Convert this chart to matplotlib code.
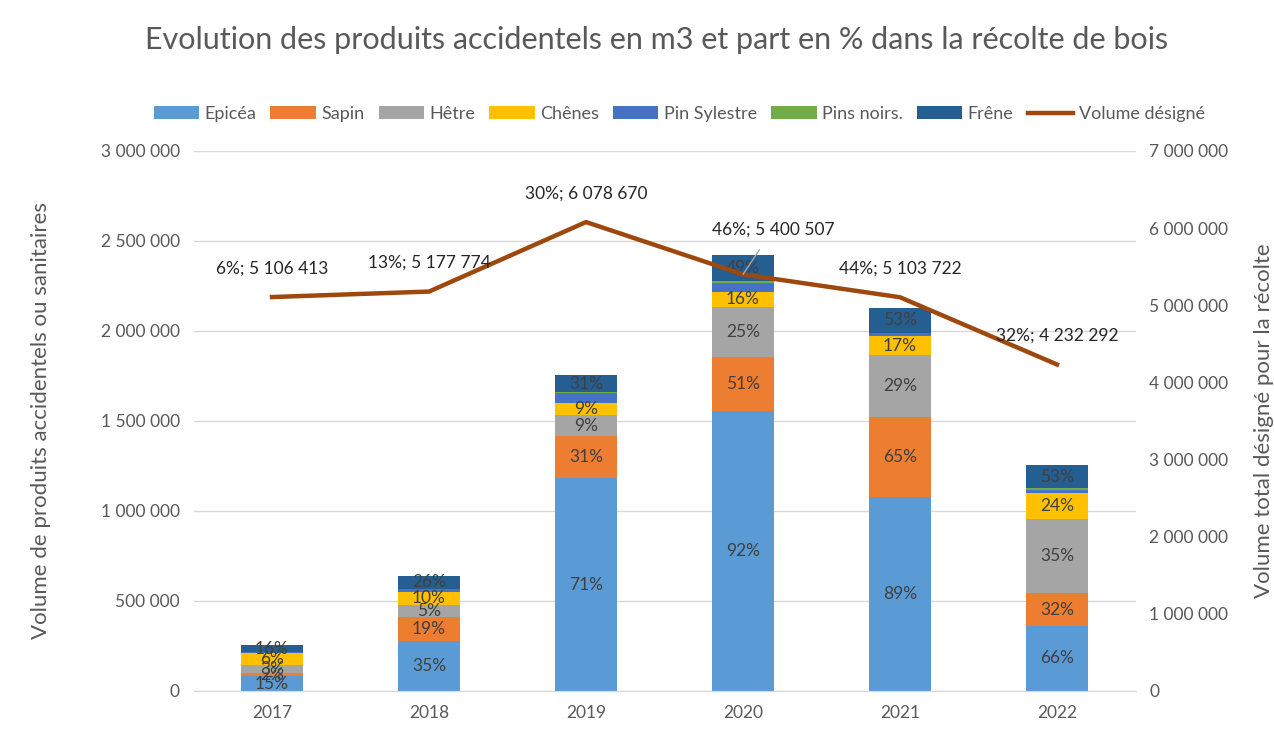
import numpy as np
import matplotlib.pyplot as plt

plt.rcParams['font.family'] = ['Lato', 'DejaVu Sans']

annees = ['2017', '2018', '2019', '2020', '2021', '2022']

# volumes par essence (m3)
epicea = [83000, 278000, 1183000, 1556000, 1078000, 361000]
sapin = [17000, 133000, 233000, 300000, 444000, 183000]
hetre = [44000, 67000, 117000, 278000, 344000, 411000]
chenes = [67000, 72000, 67000, 83000, 106000, 144000]
pin_sylvestre = [5000, 17000, 56000, 50000, 17000, 17000]
pins_noirs = [0, 0, 5000, 11000, 0, 11000]
frene = [39000, 72000, 94000, 144000, 139000, 128000]

# pourcentages affichés dans les barres
pct_epicea = ['15%', '35%', '71%', '92%', '89%', '66%']
pct_sapin = ['2%', '19%', '31%', '51%', '65%', '32%']
pct_hetre = ['3%', '5%', '9%', '25%', '29%', '35%']
pct_chenes = ['6%', '10%', '9%', '16%', '17%', '24%']
pct_frene = ['16%', '26%', '31%', '49%', '53%', '53%']

# volume total désigné et part en %
volume_designe = [5106413, 5177774, 6078670, 5400507, 5103722, 4232292]
part_pct = ['6%', '13%', '30%', '46%', '44%', '32%']

series = [
    ('Epicéa', epicea, '#5B9BD5', pct_epicea),
    ('Sapin', sapin, '#ED7D31', pct_sapin),
    ('Hêtre', hetre, '#A5A5A5', pct_hetre),
    ('Chênes', chenes, '#FFC000', pct_chenes),
    ('Pin Sylestre', pin_sylvestre, '#4472C4', None),
    ('Pins noirs.', pins_noirs, '#70AD47', None),
    ('Frêne', frene, '#255E91', pct_frene),
]

gris = '#595959'
fig = plt.figure(figsize=(12.74, 7.5), dpi=100)
ax = fig.add_axes([0.1519, 0.0787, 0.7394, 0.72])
ax2 = ax.twinx()

x = np.arange(len(annees))
bas = np.zeros(len(annees))
handles = []
for nom, vals, couleur, pct in series:
    vals = np.array(vals, dtype=float)
    b = ax.bar(x, vals, 0.4, bottom=bas, color=couleur, label=nom, zorder=2)
    handles.append(b)
    if pct is not None:
        for i in range(len(x)):
            ax.text(x[i], bas[i] + vals[i] / 2, pct[i], ha='center', va='center',
                    fontsize=12.5, color='#404040', zorder=4)
    bas += vals

ligne, = ax2.plot(x, volume_designe, color='#9E480E', lw=3.2, label='Volume désigné', zorder=3)
handles.append(ligne)
for i in range(len(x)):
    txt = part_pct[i] + '; ' + format(volume_designe[i], ',').replace(',', ' ')
    if i == 3:
        ax2.annotate(txt, (x[i], volume_designe[i]), xytext=(x[i] + 0.19, volume_designe[i] + 580000),
                     ha='center', va='center', fontsize=12.5, color='#262626',
                     arrowprops=dict(arrowstyle='-', color='#A5A5A5', lw=1, shrinkA=8, shrinkB=0))
    else:
        ax2.text(x[i], volume_designe[i] + 370000, txt, ha='center', va='center',
                 fontsize=12.5, color='#262626')

ax.set_xlim(-0.5, 5.5)
ax.set_ylim(0, 3000000)
ax2.set_ylim(0, 7000000)
ax.set_yticks(np.arange(0, 3000001, 500000))
ax2.set_yticks(np.arange(0, 7000001, 1000000))
fmt = lambda v, p: format(int(v), ',').replace(',', ' ')
ax.yaxis.set_major_formatter(plt.FuncFormatter(fmt))
ax2.yaxis.set_major_formatter(plt.FuncFormatter(fmt))
ax.set_xticks(x)
ax.set_xticklabels(annees)

ax.grid(axis='y', color='#D9D9D9', lw=1, zorder=0)
ax.set_axisbelow(True)
for a in (ax, ax2):
    for s in ['top', 'left', 'right']:
        a.spines[s].set_visible(False)
    a.spines['bottom'].set_color('#D9D9D9')
    a.tick_params(length=0, labelsize=12.5, colors=gris, pad=10)

ax.set_ylabel('Volume de produits accidentels ou sanitaires', fontsize=16, color=gris, labelpad=36)
ax2.set_ylabel('Volume total désigné pour la récolte', fontsize=16, color=gris, labelpad=18)

fig.suptitle('Evolution des produits accidentels en m3 et part en % dans la récolte de bois',
             x=0.515, y=0.965, fontsize=22, color=gris)
fig.legend(handles=handles, loc='center', bbox_to_anchor=(0.533, 0.848), ncol=8, frameon=False,
           fontsize=13, labelcolor=gris, handlelength=2.5, handletextpad=0.3, columnspacing=0.8)

fig.savefig('out.png', dpi=100)
